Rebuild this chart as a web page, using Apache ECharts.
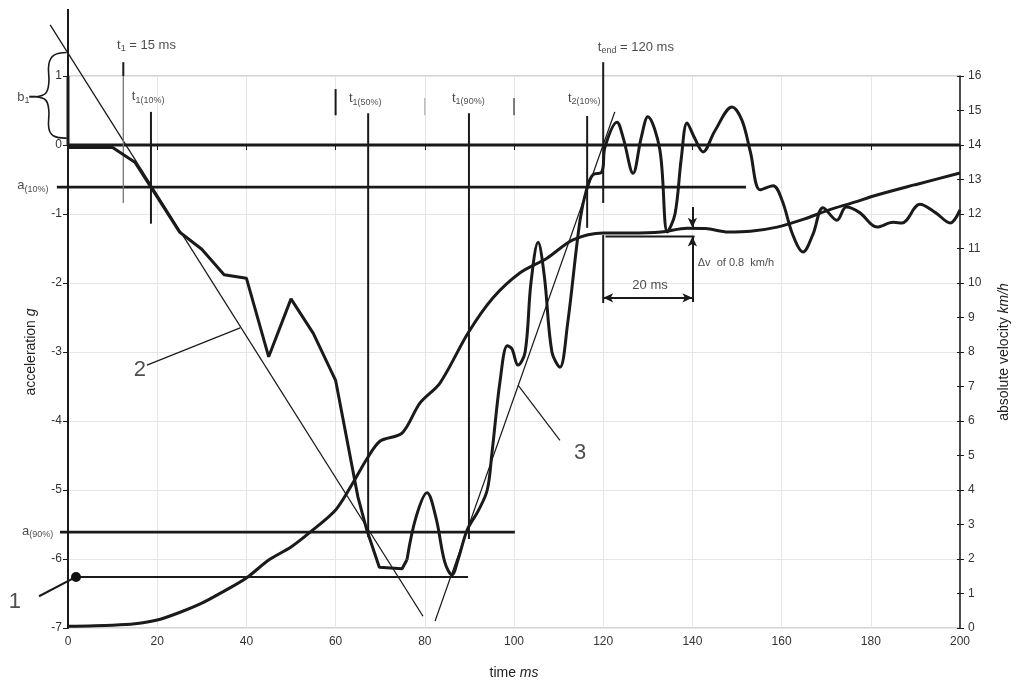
<!DOCTYPE html>
<html>
<head>
<meta charset="utf-8">
<script src="https://cdn.jsdelivr.net/npm/echarts@6/dist/echarts.min.js"></script>
<style>
  html, body { margin: 0; padding: 0; background: #fff; }
  #chart { width: 1016px; height: 684px; }
</style>
</head>
<body>
<div id="chart"></div>
<script>
// Axis ranges
const timeRange = [0, 200];      // ms
const accelRange = [-7, 1];      // g
const velocityRange = [0, 16];   // km/h

// Deceleration pulse, ramp phase [ms, g]
const accelRamp = [
  [0, -0.035], [10, -0.035], [15, -0.25], [18.6, -0.61], [25, -1.26], [30, -1.51],
  [35, -1.88], [40, -1.93], [45, -3.07], [50, -2.23], [55, -2.73], [60, -3.41],
  [65, -5.1], [67, -5.58], [69.8, -6.12], [74.9, -6.14], [76, -6.01]
];
// Deceleration pulse, rebound / ringing phase [ms, g]
const accelRebound = [
  [76, -6.01], [78, -5.4], [80.5, -5.04], [82.5, -5.4], [84.5, -6.05], [86.1, -6.23],
  [87.5, -6.0], [89.5, -5.58], [92, -5.3], [94, -5.0], [95, -4.5], [96.9, -3.41],
  [98.5, -2.91], [99.5, -2.95], [100.9, -3.19], [102.5, -3.0], [103.8, -2.0],
  [105.4, -1.41], [106.8, -1.9], [108.5, -3.0], [110.3, -3.22], [112, -2.6],
  [114.8, -1.09], [116.4, -0.61], [117.7, -0.43], [119.7, -0.39], [120.4, -0.03],
  [123.1, 0.33], [124.5, 0.1], [126.7, -0.41], [128.5, 0.1], [130, 0.41],
  [132.7, -0.07], [134.4, -1.26], [136.1, -1.0], [137.5, -0.2], [138.8, 0.32],
  [140.5, 0.1], [142.4, -0.1], [145, 0.2], [148.9, 0.55], [151.1, 0.36], [153, -0.1],
  [155.2, -0.65], [158.1, -0.59], [160.1, -0.8], [162.5, -1.3], [164.8, -1.55],
  [167, -1.3], [169.3, -0.91], [172.4, -1.09], [174.5, -0.9], [177.5, -0.98],
  [181.4, -1.19], [185, -1.12], [187, -1.13], [191, -0.86], [194.5, -0.98],
  [197.8, -1.13], [200, -0.94]
];
// Absolute velocity [ms, km/h]
const velocity = [
  [0, 0.05], [10, 0.08], [15, 0.12], [20, 0.23], [25, 0.45], [30, 0.72], [35, 1.07],
  [40, 1.45], [45, 1.97], [50, 2.35], [54.3, 2.78], [60, 3.42], [64, 4.23], [67, 4.9],
  [70, 5.42], [74.9, 5.65], [78.9, 6.52], [83.4, 7.1], [89.7, 8.55], [95.3, 9.57],
  [101.3, 10.29], [107.4, 10.72], [113.2, 11.25], [120, 11.45], [126, 11.45],
  [133, 11.48], [138.8, 11.59], [143, 11.58], [148, 11.48], [153, 11.5], [159, 11.62],
  [165, 11.85], [170.2, 12.1], [176, 12.33], [181.4, 12.55], [190, 12.85], [200, 13.19]
];

// Construction lines [ms, g]
const tangent2 = [[-4, 1.74], [79.6, -6.83]];
const tangent3 = [[82.3, -6.9], [122.6, 0.48]];
const levelA10 = -0.61;
const levelA90 = -5.61;
const levelPeak = -6.26;
// Characteristic times [ms]
const tStart = 12.4, t1p10 = 18.6, t1p50 = 67.3, t1p90 = 89.9, t2p10 = 116.4, tEnd = 120;
// Velocity change window [ms] and levels [km/h]
const windowMs = [120, 140];
const dvLevels = { curve: 11.6, base: 11.35, dimension: 9.57 };

const FONT = '"Liberation Sans", Arial, sans-serif';
const INK = '#1a1a1a';

// Overlay polylines drawn through the axes' own coordinate mapping
function overlay(list, axis) {
  return {
    type: 'custom', yAxisIndex: axis, clip: false, silent: true, animation: false, z: 4,
    data: list.map(s => s.pts[0]),
    renderItem: function (params, api) {
      const s = list[params.dataIndex];
      return {
        type: 'polyline',
        shape: { points: s.pts.map(p => api.coord(p)), smooth: s.smooth || 0 },
        style: { stroke: s.color || INK, lineWidth: s.width || 1.2, fill: null, lineCap: 'butt' }
      };
    }
  };
}

const gOverlays = [
  // construction tangents
  { pts: tangent2, width: 1.3 },
  { pts: tangent3, width: 1.3 },
  // level lines
  { pts: [[0, 0], [200, 0]], width: 3 },
  { pts: [[-2.5, levelA10], [152, levelA10]], width: 2.6 },
  { pts: [[-1.8, levelA90], [100.2, levelA90]], width: 2.6 },
  { pts: [[1.8, levelPeak], [89.7, levelPeak]], width: 2 },
  // time markers
  { pts: [[tStart, 1.2], [tStart, 1.0]], width: 2 },
  { pts: [[tStart, 1.0], [tStart, -0.84]], width: 1.3, color: '#777' },
  { pts: [[t1p10, 0.48], [t1p10, -1.14]], width: 2 },
  { pts: [[t1p50, 0.46], [t1p50, -5.68]], width: 2 },
  { pts: [[t1p90, 0.46], [t1p90, -5.71]], width: 2 },
  { pts: [[t2p10, 0.42], [t2p10, -1.2]], width: 2 },
  { pts: [[tEnd, 1.2], [tEnd, -0.84]], width: 2 },
  // label brackets
  { pts: [[60, 0.81], [60, 0.43]], width: 2 },
  { pts: [[80, 0.68], [80, 0.43]], width: 1.5, color: '#bbb' },
  { pts: [[100, 0.68], [100, 0.43]], width: 1.5, color: '#555' },
  // acceleration axis continues above the plot
  { pts: [[0, 1], [0, 1.97]], width: 2 },
  { pts: [[0, 0], [0, 1]], width: 3 },
  // b1 brace
  { pts: [[-8.7, 0.7], [-7.2, 0.7]], width: 2 },
  { pts: [[-0.3, 1.34], [-3.2, 1.3], [-4.3, 1.17], [-4.3, 0.9], [-5.0, 0.75], [-7.2, 0.7]], width: 1.6, smooth: 0.4 },
  { pts: [[-7.2, 0.7], [-5.0, 0.65], [-4.3, 0.5], [-4.3, 0.24], [-3.2, 0.13], [-0.3, 0.1]], width: 1.6, smooth: 0.4 },
  // pointer lines for 1, 2, 3
  { pts: [[-6.5, -6.54], [1.8, levelPeak]], width: 2 },
  { pts: [[17.7, -3.19], [38.6, -2.65]], width: 1.2 },
  { pts: [[110.3, -4.28], [100.9, -3.48]], width: 1.2 }
];

const vOverlays = [
  { pts: [[windowMs[0], 11.39], [windowMs[0], 9.42]], width: 2 },
  { pts: [[windowMs[0] + 0.5, dvLevels.base], [windowMs[1] + 0.5, dvLevels.base]], width: 2 }
];

// arrow helper (markLine turns heads along the line)
function arrowLine(a, b, axis, heads) {
  return {
    type: 'line', data: [], yAxisIndex: axis, silent: true, animation: false, z: 5,
    markLine: {
      silent: true, animation: false, symbolSize: [7, 10],
      label: { show: false },
      lineStyle: { type: 'solid', color: INK, width: 2 },
      emphasis: { disabled: true },
      data: [[
        { coord: a, symbol: heads[0] },
        { coord: b, symbol: heads[1] }
      ]]
    }
  };
}

const rich = {
  m: { fontSize: 13, fontFamily: FONT, color: INK },
  s: { fontSize: 9, fontFamily: FONT, color: INK, padding: [7, 0, 0, 0] },
  sm: { fontSize: 11, fontFamily: FONT, color: INK },
  big: { fontSize: 22, fontFamily: FONT, color: '#222' }
};

// text annotations placed in data units [ms, g]
const textNotes = [
  { p: [11, 1.45], t: '{m|t}{s|1}{m| = 15 ms}', align: 'left' },
  { p: [14.3, 0.7], t: '{m|t}{s|1(10%)}', align: 'left' },
  { p: [63, 0.67], t: '{m|t}{s|1(50%)}', align: 'left' },
  { p: [86.1, 0.68], t: '{m|t}{s|1(90%)}', align: 'left' },
  { p: [112.1, 0.68], t: '{m|t}{s|2(10%)}', align: 'left' },
  { p: [118.8, 1.42], t: '{m|t}{s|end}{m| = 120 ms}', align: 'left' },
  { p: [-11.4, 0.69], t: '{m|b}{s|1}', align: 'left' },
  { p: [-11.4, -0.59], t: '{m|a}{s|(10%)}', align: 'left' },
  { p: [-10.3, -5.6], t: '{m|a}{s|(90%)}', align: 'left' },
  { p: [-11.9, -6.62], t: '{big|1}', align: 'center' },
  { p: [16.1, -3.26], t: '{big|2}', align: 'center' },
  { p: [114.8, -4.46], t: '{big|3}', align: 'center' }
];
// text annotations on the velocity axis [ms, km/h]
const velocityNotes = [
  { p: [130.5, 9.94], t: '{m|20 ms}', align: 'center' },
  { p: [141.2, 10.58], t: '{sm|Δv  of 0.8  km/h}', align: 'left' }
];

function notesSeries(notes, axis) {
  return {
    type: 'scatter', yAxisIndex: axis, symbolSize: 0, clip: false, silent: true,
    animation: false, z: 6,
    data: notes.map(n => ({
      value: n.p,
      label: {
        show: true, position: [0, 0], align: n.align, verticalAlign: 'middle',
        formatter: n.t, rich: rich
      }
    }))
  };
}

function trace(points, axis, smooth) {
  return {
    type: 'line', data: points, yAxisIndex: axis, symbol: 'none', smooth: smooth,
    clip: false, silent: true, animation: false, z: 7,
    lineStyle: { width: 3, color: INK }
  };
}

const series = [
  trace(accelRamp, 0, false),
  trace(accelRebound, 0, 0.35),
  trace(velocity, 1, 0.3),
  overlay(gOverlays, 0),
  overlay(vOverlays, 1),
  {
    type: 'scatter', data: [[1.8, levelPeak]], symbolSize: 10, clip: false, silent: true,
    itemStyle: { color: '#111', opacity: 1 }, z: 8, animation: false
  },
  arrowLine([windowMs[0], dvLevels.dimension], [windowMs[1], dvLevels.dimension], 1, ['arrow', 'arrow']),
  arrowLine([windowMs[1], 12.2], [windowMs[1], dvLevels.curve], 1, ['none', 'arrow']),
  arrowLine([windowMs[1], 9.45], [windowMs[1], dvLevels.base], 1, ['none', 'arrow']),
  notesSeries(textNotes, 0),
  notesSeries(velocityNotes, 1)
];

const axisText = { color: '#333', fontSize: 12, fontFamily: FONT };
const nameRich = {
  n: { fontSize: 14, fontFamily: FONT, color: '#222' },
  i: { fontSize: 14, fontFamily: FONT, color: '#222', fontStyle: 'italic' }
};

const option = {
  backgroundColor: '#fff',
  animation: false,
  grid: {
    left: 68, right: 56, top: 76, bottom: 56, containLabel: false, outerBoundsMode: 'none',
    show: true, borderColor: '#aaa', borderWidth: 1
  },
  xAxis: {
    type: 'value', min: timeRange[0], max: timeRange[1], interval: 20,
    axisLine: { lineStyle: { color: INK, width: 1.5 } },
    axisTick: { length: 5, lineStyle: { color: INK } },
    axisLabel: Object.assign({ margin: 8 }, axisText),
    splitLine: { lineStyle: { color: '#e6e6e6' } },
    name: '{n|time }{i|ms}', nameLocation: 'middle', nameGap: 38,
    nameTextStyle: { rich: nameRich }
  },
  yAxis: [
    {
      type: 'value', position: 'left', min: accelRange[0], max: accelRange[1], interval: 1,
      axisLine: { show: true, lineStyle: { color: INK, width: 2 } },
      axisTick: { show: true, length: 5, lineStyle: { color: INK } },
      axisLabel: Object.assign({ margin: 6 }, axisText),
      splitLine: { lineStyle: { color: '#e6e6e6' } },
      name: '{n|acceleration }{i|g}', nameLocation: 'middle', nameGap: 30,
      nameTextStyle: { rich: nameRich }
    },
    {
      type: 'value', position: 'right', min: velocityRange[0], max: velocityRange[1], interval: 1,
      axisLine: { show: true, lineStyle: { color: INK, width: 1.5 } },
      axisTick: { show: true, length: 4, lineStyle: { color: INK } },
      axisLabel: Object.assign({ margin: 8 }, axisText),
      splitLine: { show: false },
      name: '{n|absolute velocity }{i|km/h}', nameLocation: 'middle', nameGap: 37,
      nameRotate: 90,
      nameTextStyle: { rich: nameRich }
    },
    {
      type: 'value', position: 'right', min: velocityRange[0], max: velocityRange[1], interval: 1,
      axisLine: { show: false },
      axisTick: { show: true, inside: true, length: 3, lineStyle: { color: INK } },
      axisLabel: { show: false },
      splitLine: { show: false }
    }
  ],
  series: series
};

const chart = echarts.init(document.getElementById('chart'));
chart.setOption(option);
</script>
</body>
</html>
